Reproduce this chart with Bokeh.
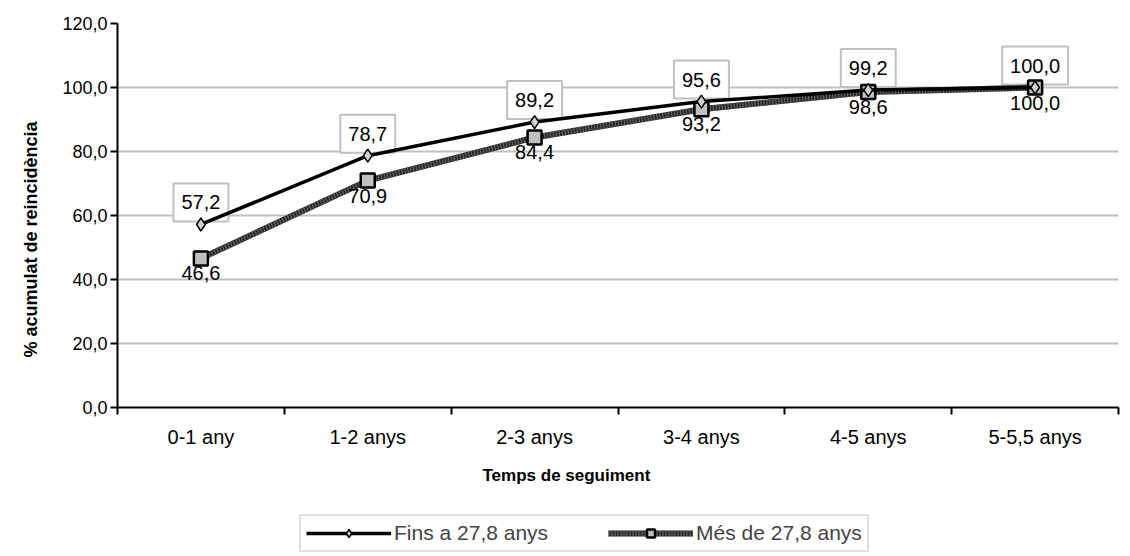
from bokeh.plotting import figure
from bokeh.layouts import column
from bokeh.models import (Range1d, FixedTicker, ColumnDataSource, LabelSet, Legend, LegendItem, Title)
from bokeh.embed import file_html
from bokeh.resources import INLINE
from bokeh.core.properties import value

categories = ["0-1 any", "1-2 anys", "2-3 anys", "3-4 anys", "4-5 anys", "5-5,5 anys"]
fins = [57.2, 78.7, 89.2, 95.6, 99.2, 100.0]
mes = [46.6, 70.9, 84.4, 93.2, 98.6, 100.0]
y_ticks = [0, 20, 40, 60, 80, 100, 120]
series_names = ["Fins a 27,8 anys", "Més de 27,8 anys"]

def fmt(v):
    return f"{v:.1f}".replace(".", ",")

xs = [i + 0.5 for i in range(len(categories))]
src = ColumnDataSource(dict(
    x=xs, fins=fins, mes=mes,
    fins_lbl=[fmt(v) for v in fins], mes_lbl=[fmt(v) for v in mes]))

FONT = "Liberation Sans"

p = figure(width=1122, height=500, output_backend="svg", toolbar_location=None,
           x_range=Range1d(0, len(categories)), y_range=Range1d(0, 120),
           min_border_left=116, min_border_right=4, min_border_top=23, min_border_bottom=93)
p.outline_line_color = None
p.background_fill_color = "white"

# grid
p.xgrid.grid_line_color = None
p.ygrid.grid_line_color = "#c0c0c0"
p.ygrid.grid_line_width = 2
p.ygrid.ticker = FixedTicker(ticks=y_ticks)

# y axis
p.yaxis.ticker = FixedTicker(ticks=y_ticks)
p.yaxis.major_label_overrides = {t: fmt(t) for t in y_ticks}
p.yaxis.axis_line_width = 2
p.yaxis.axis_line_color = "black"
p.yaxis.major_tick_in = 0
p.yaxis.major_tick_out = 7
p.yaxis.major_tick_line_width = 2
p.yaxis.minor_tick_line_color = None
p.yaxis.major_label_standoff = 3
p.yaxis.major_label_text_font = FONT
p.yaxis.major_label_text_font_size = "18px"
p.yaxis.major_label_text_color = "black"

ytitle = Title(text="% acumulat de reincidència", align="left", offset=50, standoff=37,
               text_font=FONT, text_font_style="bold", text_font_size="18px",
               text_color="black")
p.add_layout(ytitle, "left")

# x axis
p.xaxis.ticker = FixedTicker(ticks=xs, minor_ticks=list(range(len(categories) + 1)))
p.xaxis.major_label_overrides = {x: c for x, c in zip(xs, categories)}
p.xaxis.axis_line_width = 2
p.xaxis.axis_line_color = "black"
p.xaxis.major_tick_line_color = None
p.xaxis.major_tick_in = 0
p.xaxis.major_tick_out = 0
p.xaxis.minor_tick_in = 0
p.xaxis.minor_tick_out = 7
p.xaxis.minor_tick_line_width = 2
p.xaxis.minor_tick_line_color = "black"
p.xaxis.major_label_standoff = 11
p.xaxis.major_label_text_font = FONT
p.xaxis.major_label_text_font_size = "20px"
p.xaxis.major_label_text_color = "black"

xtitle = Title(text="Temps de seguiment", align="left", offset=365, standoff=26,
               text_font=FONT, text_font_style="bold", text_font_size="17px",
               text_color="black")
p.add_layout(xtitle, "below")

# boxed labels of the first series (drawn under the markers)
p.text(x="x", y="fins", text="fins_lbl", source=src, text_align="center",
       text_baseline="middle", y_offset=-22, text_font=value(FONT),
       text_font_size="20px", text_color="black",
       background_fill_color="white", border_line_color="#c0c0c0",
       border_line_width=2, padding=dict(left=8, right=8, top=12, bottom=12))

def draw_series(fig):
    # series 2 (Més de 27,8 anys): thick hatched dark gray line with gray squares
    l2a = fig.line("x", "mes", source=src, line_color="#2a2a2a", line_width=6)
    l2b = fig.line("x", "mes", source=src, line_color="#6a6a6a", line_width=6, line_dash="1 2")
    m2 = fig.scatter("x", "mes", source=src, marker="square", size=14,
                     fill_color="#c0c0c0", line_color="black", line_width=2.5)
    # series 1 (Fins a 27,8 anys): black line, small diamonds
    l1 = fig.line("x", "fins", source=src, line_color="black", line_width=3.5)
    m1 = fig.scatter("x", "fins", source=src, marker="diamond", size=13,
                     fill_color="#d0d0d0", line_color="black", line_width=1.5)
    return [l1, m1], [l2a, l2b, m2]

draw_series(p)

lab2 = LabelSet(x="x", y="mes", text="mes_lbl", source=src, text_align="center",
                text_baseline="top", y_offset=-8, text_font=value(FONT),
                text_font_size="20px", text_color="black")
p.add_layout(lab2)

# legend strip (separate figure below the chart; its series lie outside its view)
pl = figure(width=1122, height=52, output_backend="svg", toolbar_location=None,
            x_range=Range1d(0, len(categories)), y_range=Range1d(1000, 1001),
            x_axis_type=None, y_axis_type=None,
            min_border_left=0, min_border_right=0, min_border_top=0, min_border_bottom=0)
pl.outline_line_color = None
pl.xgrid.grid_line_color = None
pl.ygrid.grid_line_color = None
r1, r2 = draw_series(pl)

legend = Legend(items=[LegendItem(label=series_names[0], renderers=r1),
                       LegendItem(label=series_names[1], renderers=r2)],
                orientation="horizontal", location=(182, 0),
                border_line_color="#c0c0c0", border_line_width=2,
                background_fill_color="white",
                glyph_width=85, glyph_height=20, label_standoff=3,
                spacing=60, padding=5, margin=0,
                label_text_font=FONT, label_text_font_size="21px")
pl.add_layout(legend, "center")

open("out.html", "w").write(file_html(column(p, pl, spacing=0), INLINE))
